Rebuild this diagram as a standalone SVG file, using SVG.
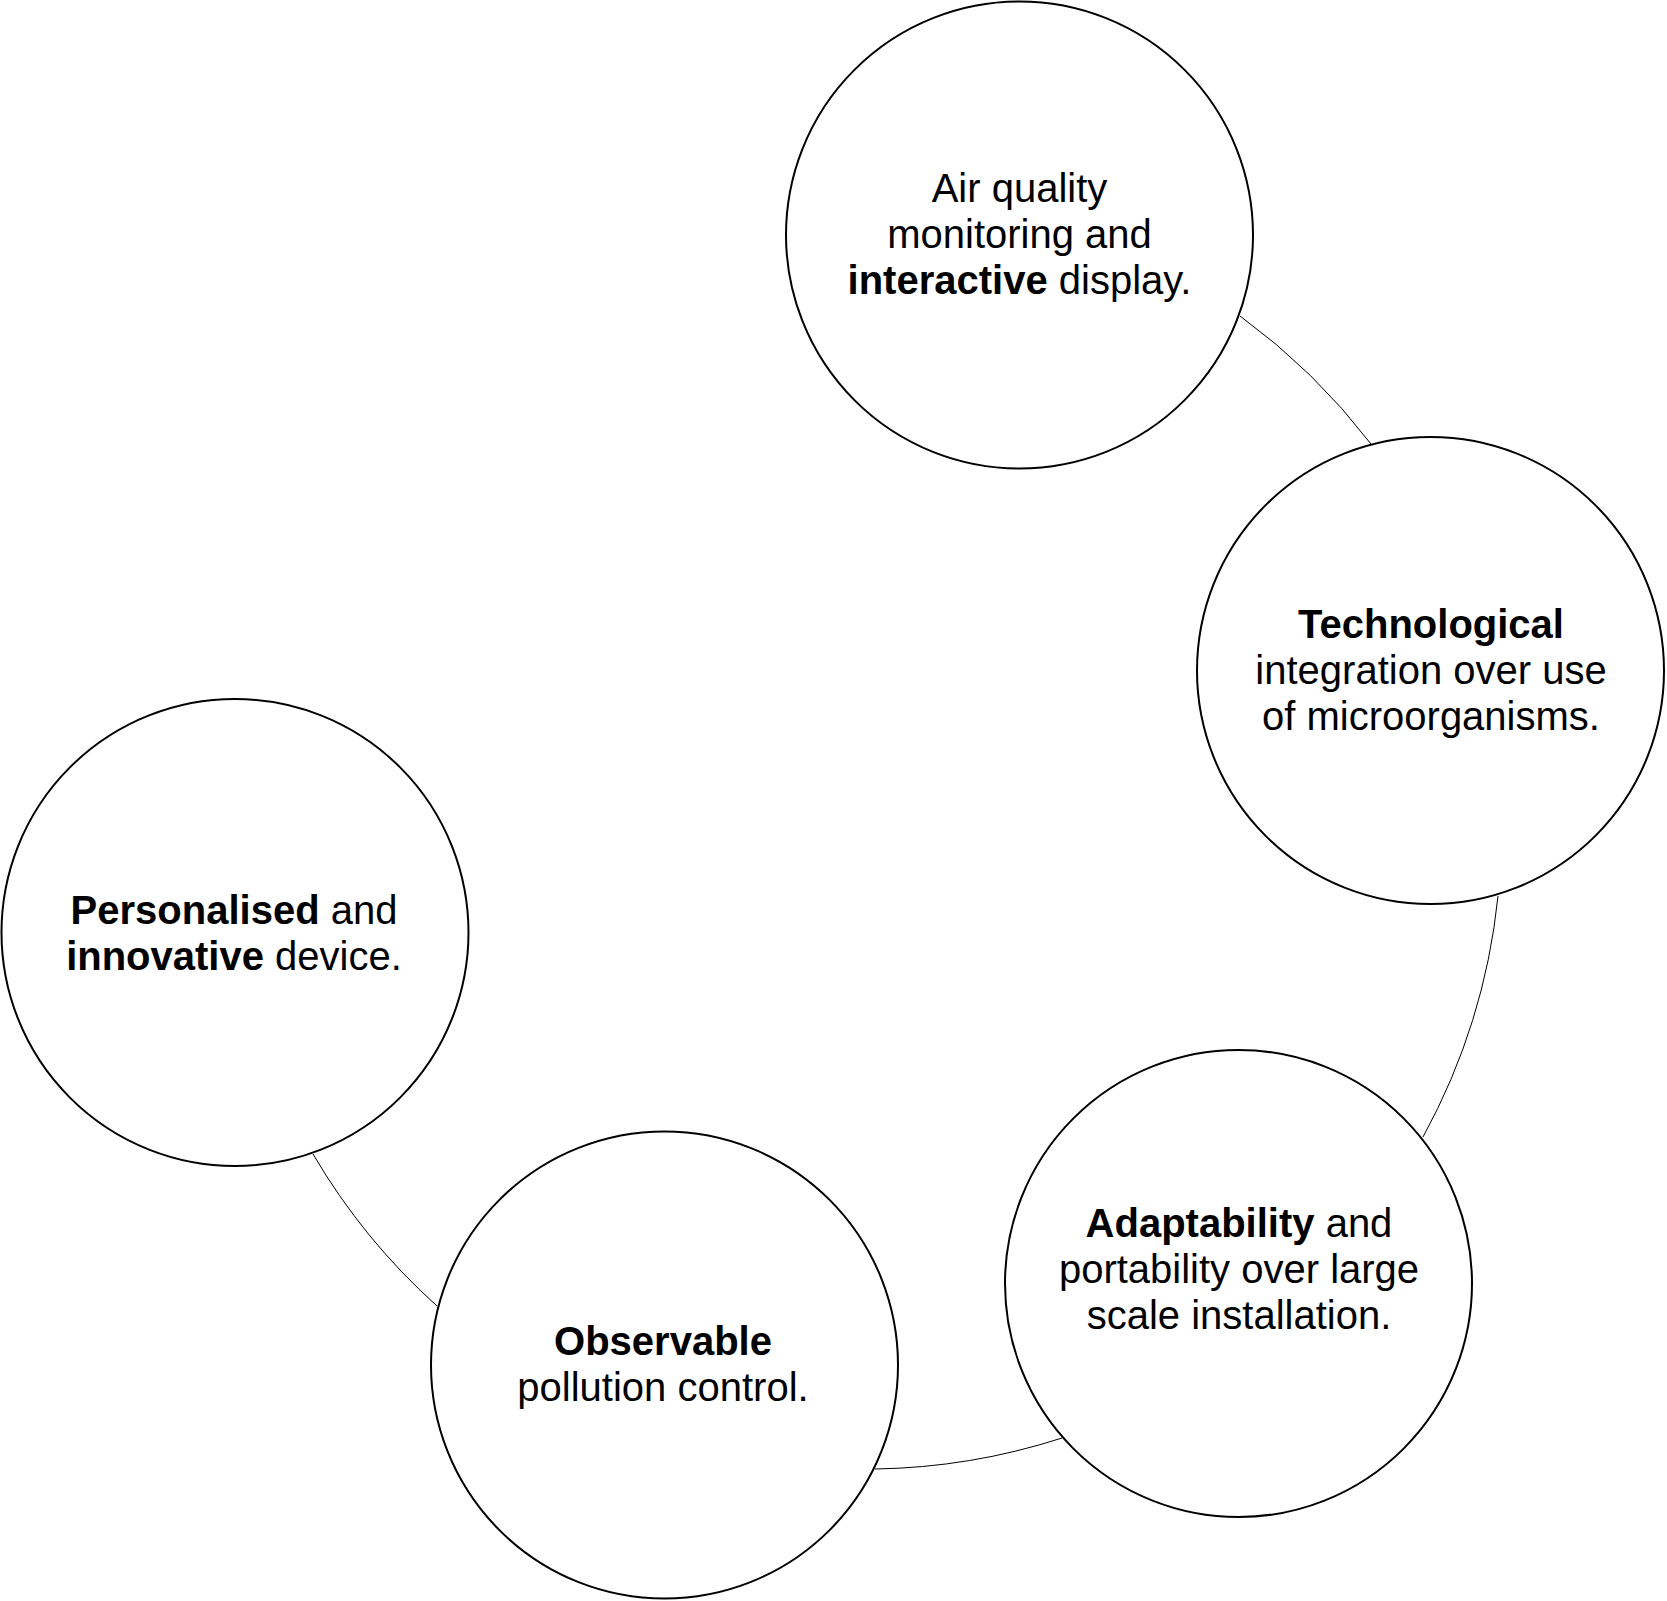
<svg xmlns="http://www.w3.org/2000/svg" width="1667" height="1601" viewBox="0 0 1667 1601">
<style>
.node{fill:#ffffff;stroke:#000000;stroke-width:2}
.conn{fill:none;stroke:#000000;stroke-width:1}
text{font-family:"Liberation Sans",Arial,sans-serif;font-size:40px;fill:#000000;text-anchor:middle}
.b{font-weight:bold}
</style>
<rect width="1667" height="1601" fill="#ffffff"/>
<g id="connectors">
<path class="conn" d="M1240,316 A638.3,638.3 0 0 1 1371,444"/>
<path class="conn" d="M1498,896 A638.3,638.3 0 0 1 1423,1137"/>
<path class="conn" d="M1062,1438 A638.3,638.3 0 0 1 875,1469"/>
<path class="conn" d="M437,1306 A638.3,638.3 0 0 1 313,1154"/>
</g>
<g id="node-air-quality">
<circle class="node" cx="1019.5" cy="235" r="233.5"/>
<text x="1019.5" y="202">Air quality</text>
<text x="1019.5" y="248">monitoring and</text>
<text x="1019.5" y="294"><tspan class="b">interactive</tspan> display.</text>
</g>
<g id="node-technological">
<circle class="node" cx="1430.5" cy="670.5" r="233.5"/>
<text x="1431" y="638" class="b">Technological</text>
<text x="1431" y="684">integration over use</text>
<text x="1431" y="730">of microorganisms.</text>
</g>
<g id="node-adaptability">
<circle class="node" cx="1238.5" cy="1283.5" r="233.5"/>
<text x="1239" y="1237"><tspan class="b">Adaptability</tspan> and</text>
<text x="1239" y="1283">portability over large</text>
<text x="1239" y="1329">scale installation.</text>
</g>
<g id="node-observable">
<circle class="node" cx="664.5" cy="1365" r="233.5"/>
<text x="663" y="1355" class="b">Observable</text>
<text x="663" y="1401">pollution control.</text>
</g>
<g id="node-personalised">
<circle class="node" cx="235" cy="932.5" r="233.5"/>
<text x="234" y="924"><tspan class="b">Personalised</tspan> and</text>
<text x="234" y="970"><tspan class="b">innovative</tspan> device.</text>
</g>
</svg>
